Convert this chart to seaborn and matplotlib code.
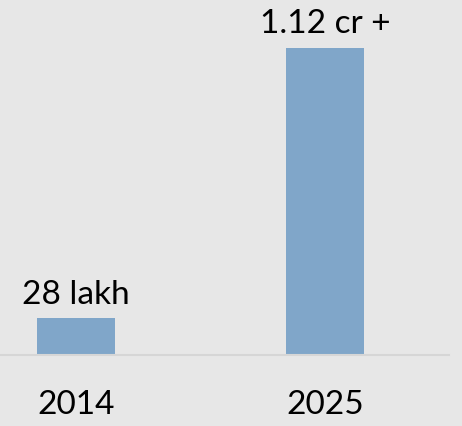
import matplotlib
matplotlib.use("Agg")
import matplotlib.pyplot as plt
import seaborn as sns
import pandas as pd

# Values in lakh
years = ["2014", "2025"]
values_lakh = [28, 112]
value_labels = ["28 lakh", "1.12 cr +"]

BG = "#e7e7e7"
BAR = "#80a6c9"

sns.set_style("white")
plt.rcParams["font.family"] = ["Lato", "DejaVu Sans"]

fig = plt.figure(figsize=(4.62, 4.26), dpi=100, facecolor=BG)
ax = fig.add_axes([0, 71 / 426, 449 / 462, 355 / 426])
ax.set_facecolor(BG)

df = pd.DataFrame({"year": years, "value": values_lakh})
sns.barplot(data=df, x="year", y="value", color=BAR, saturation=1,
            width=0.313, ax=ax, edgecolor="none")

ax.set_xlim(-0.3036, 1.497)
ax.set_ylim(16.5, 126.85)

ax.bar_label(ax.containers[0], labels=value_labels, padding=6,
             fontsize=24, color="black")

for side in ["left", "right", "top"]:
    ax.spines[side].set_visible(False)
ax.spines["bottom"].set_color("#d6d6d6")
ax.spines["bottom"].set_linewidth(1.5)

ax.set_yticks([])
ax.tick_params(axis="x", length=0, pad=25, labelsize=24, colors="black")
ax.set_xlabel("")
ax.set_ylabel("")

fig.savefig("out.png", dpi=100, facecolor=BG)
